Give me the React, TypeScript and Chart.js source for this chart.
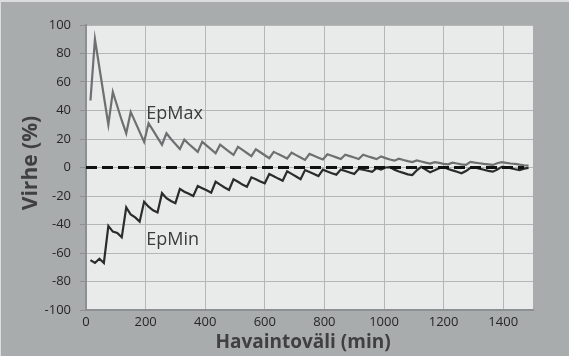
import { useEffect, useRef } from 'react';
import { Chart, registerables } from 'chart.js';

Chart.register(...registerables);

// Observation interval (minutes)
const minutes = [
  15, 30, 45, 60, 75, 90, 105, 120, 135, 150, 165, 180, 195, 210, 225, 240,
  255, 270, 285, 300, 315, 330, 345, 360, 375, 390, 405, 420, 435, 450, 465, 480,
  495, 510, 525, 540, 555, 570, 585, 600, 615, 630, 645, 660, 675, 690, 705, 720,
  735, 750, 765, 780, 795, 810, 825, 840, 855, 870, 885, 900, 915, 930, 945, 960,
  975, 990, 1005, 1020, 1035, 1050, 1065, 1080, 1095, 1110, 1125, 1140, 1155, 1170, 1185, 1200,
  1215, 1230, 1245, 1260, 1275, 1290, 1305, 1320, 1335, 1350, 1365, 1380, 1395, 1410, 1425, 1440,
  1455, 1470, 1485,
];

const epMax = [
  47, 90, 70, 50, 30, 53, 43, 33, 24, 39, 32, 25, 18, 31, 26, 21,
  16, 24, 20, 16.5, 13, 19.5, 16.5, 13.8, 11, 18, 15.3, 12.7, 10, 16, 13.6, 11.2,
  8.8, 14.5, 12.3, 10.2, 8, 12.8, 10.7, 8.6, 6.5, 11, 9.4, 7.9, 6.3, 10.4, 8.7, 7,
  5.3, 9.5, 8.2, 6.9, 5.6, 9.3, 8.2, 7.1, 6, 9, 8, 7, 6, 9, 7.9, 6.9,
  5.9, 7.8, 6.6, 5.6, 4.8, 6.2, 5.3, 4.5, 3.8, 5, 4.2, 3.4, 2.8, 3.8, 3.2, 2.6,
  2.2, 3.4, 2.8, 2.2, 1.8, 4, 3.4, 3, 2.5, 2.2, 1.8, 3, 3.8, 3.3, 2.8, 2.5,
  2, 1.6, 1.3,
];

const epMin = [
  -65, -67, -64, -67, -41, -45, -46, -49, -28, -33, -35, -38, -24, -27.5, -30, -31.5,
  -18, -21.5, -23.5, -25, -15, -17, -18.5, -20, -13, -14.5, -16, -17.7, -10, -12, -14, -15.8,
  -8.3, -10, -12, -13.5, -6.9, -8.3, -9.8, -11.1, -4.6, -6.2, -7.8, -9.3, -2.7, -4.5, -6.3, -8.2,
  -1.8, -3.2, -4.5, -6, -1.5, -2.8, -4, -5, -1.5, -2.5, -3.5, -4.5, -1, -1.6, -2.3, -3,
  -0.5, -1.5, 0, 0.3, -1.5, -2.8, -3.8, -4.8, -5.3, -2, 0.5, -1.5, -3.4, -2, -0.5, 0.4,
  -1, -2, -3, -4, -2.5, -0.2, 0, -0.8, -1.6, -2.4, -2.9, -1.5, 0.5, 0.3, -0.5, -1.2,
  -1.8, -0.8, -0.3,
];

const zeroLineMinutes = [0, 1470];
const zeroLineValues = [0, 0];

const xTickValues = [0, 200, 400, 600, 800, 1000, 1200, 1400];
const yTickValues = [-100, -80, -60, -40, -20, 0, 20, 40, 60, 80, 100];

const seriesNames = ['EpMax', 'EpMin'];
const xTitle = 'Havaintoväli (min)';
const yTitle = 'Virhe (%)';

const toPoints = (xs: number[], ys: number[]) => xs.map((x, i) => ({ x, y: ys[i] }));

const inlineLabels = [
  { text: seriesNames[0], x: 202, y: 34 },
  { text: seriesNames[1], x: 202, y: -54.5 },
];

const decor = {
  id: 'decor',
  beforeDraw(chart: any) {
    const { ctx, width, height, chartArea: a } = chart;
    ctx.save();
    ctx.fillStyle = '#dcdede';
    ctx.fillRect(0, 0, width, height);
    ctx.fillStyle = '#a9acad';
    ctx.fillRect(1, 2, width - 1, height - 2);
    ctx.fillStyle = '#e9ebea';
    ctx.fillRect(a.left, a.top, a.right - a.left, a.bottom - a.top);
    ctx.restore();
  },
  afterDraw(chart: any) {
    const { ctx, scales } = chart;
    const xs = scales.x;
    const ys = scales.y;
    ctx.save();
    ctx.fillStyle = '#3c3c3c';
    ctx.textBaseline = 'alphabetic';
    ctx.textAlign = 'left';
    ctx.font = '18px "Open Sans"';
    inlineLabels.forEach((l) => {
      ctx.fillText(l.text, xs.getPixelForValue(l.x), ys.getPixelForValue(l.y));
    });
    ctx.fillStyle = '#404040';
    ctx.textAlign = 'center';
    ctx.font = 'bold 19px "Open Sans"';
    ctx.fillText(xTitle, 303, 348);
    ctx.translate(36.5, 163);
    ctx.rotate(-Math.PI / 2);
    ctx.font = 'bold 21px "Open Sans"';
    ctx.fillText(yTitle, 0, 0);
    ctx.restore();
  },
};

export default function App() {
  const ref = useRef<HTMLCanvasElement | null>(null);

  useEffect(() => {
    document.body.style.margin = '0';
    const canvas = ref.current;
    if (!canvas) return;
    const tickFont = { family: '"Open Sans"', size: 13 };
    const plain = (v: any) => String(v);
    const chart = new Chart(canvas, {
      type: 'line',
      data: {
        datasets: [
          {
            label: 'zero',
            data: toPoints(zeroLineMinutes, zeroLineValues),
            borderColor: '#111111',
            borderWidth: 2.8,
            borderDash: [11, 5],
            pointRadius: 0,
            order: 0,
          },
          {
            label: seriesNames[1],
            data: toPoints(minutes, epMin),
            borderColor: '#2b2b2b',
            borderWidth: 2.2,
            pointRadius: 0,
            order: 1,
          },
          {
            label: seriesNames[0],
            data: toPoints(minutes, epMax),
            borderColor: '#6e6f70',
            borderWidth: 2.2,
            pointRadius: 0,
            order: 2,
          },
        ],
      },
      options: {
        animation: false,
        responsive: false,
        devicePixelRatio: 1,
        layout: { padding: { left: 0, top: 25, right: 36, bottom: 0 } },
        plugins: { legend: { display: false }, tooltip: { enabled: false } },
        elements: { line: { tension: 0 } },
        scales: {
          x: {
            type: 'linear',
            min: 0,
            max: 1500,
            afterBuildTicks: (s: any) => {
              s.ticks = xTickValues.map((value) => ({ value }));
            },
            afterFit: (s: any) => {
              s.height = 46;
            },
            grid: { color: '#b4b7b7', lineWidth: 1, drawTicks: false },
            border: { color: '#8d9091', width: 2 },
            ticks: { color: '#262626', font: tickFont, padding: 4, maxRotation: 0, autoSkip: false, callback: plain },
          },
          y: {
            type: 'linear',
            min: -100,
            max: 100,
            afterBuildTicks: (s: any) => {
              s.ticks = yTickValues.map((value) => ({ value }));
            },
            afterFit: (s: any) => {
              s.width = 86;
            },
            grid: { color: '#b4b7b7', lineWidth: 1, tickColor: '#8d9091', tickLength: 6 },
            border: { color: '#8d9091', width: 2 },
            ticks: { color: '#262626', font: tickFont, padding: 9, autoSkip: false, callback: plain },
          },
        },
      },
      plugins: [decor],
    });
    return () => chart.destroy();
  }, []);

  return (
    <div style={{ width: 569, height: 356 }}>
      <canvas ref={ref} width={569} height={356} style={{ display: 'block' }} />
    </div>
  );
}
